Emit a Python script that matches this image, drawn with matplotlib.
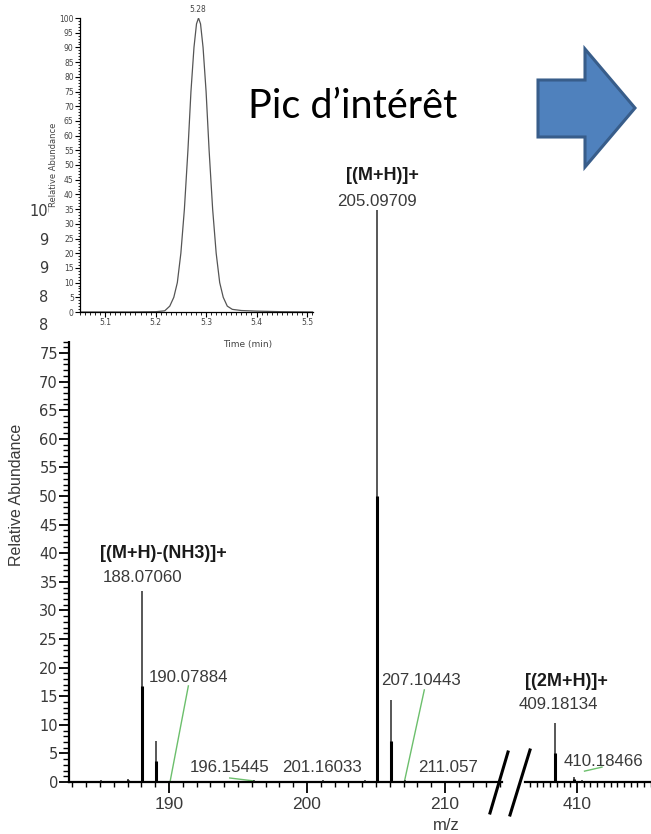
import numpy as np
import matplotlib
matplotlib.use('Agg')
import matplotlib.pyplot as plt
from matplotlib.patches import Rectangle, Polygon
from matplotlib.lines import Line2D
from matplotlib.ticker import MultipleLocator

W, H = 651, 834

# spectrum, left part of the broken m/z axis
left_mz = [185.07, 187.00, 188.07, 189.07, 196.15, 201.16, 204.20, 205.10, 206.10, 207.10, 211.06]
left_int = [0.4, 0.6, 33.4, 7.2, 0.4, 0.3, 0.3, 100.0, 14.3, 0.3, 0.2]
# right part
right_mz = [409.18, 409.87, 410.18]
right_int = [10.3, 0.9, 0.3]

# chromatogram of the peak of interest
rt = [5.05, 5.10, 5.15, 5.20, 5.218, 5.228, 5.236, 5.243, 5.250, 5.257, 5.264, 5.270, 5.276,
      5.281, 5.285, 5.289, 5.294, 5.300, 5.306, 5.313, 5.320, 5.327, 5.334, 5.342, 5.352,
      5.370, 5.40, 5.45, 5.512]
rt_int = [0, 0, 0, 0.1, 0.4, 2, 5, 10, 20, 35, 55, 75, 90,
          98, 100, 98, 90, 75, 55, 35, 20, 10, 5, 2, 0.9,
          0.5, 0.3, 0.1, 0]

# label text, label centre (m/z, abundance)
label_txt = ['188.07060', '190.07884', '196.15445', '201.16033', '205.09709', '207.10443', '211.057']
label_x = [188.07, 191.4, 194.38, 201.1, 205.10, 208.29, 210.2]
label_y = [35.7, 18.3, 2.45, 2.45, 101.5, 17.8, 2.45]

FONT = 'Liberation Sans'
TXT = '#3a3a3a'
GREEN = '#6cbf6c'


def fr(x0, y0, x1, y1):
    # pixel box (top-left origin) -> figure fraction rect
    return [x0 / W, 1 - y1 / H, (x1 - x0) / W, (y1 - y0) / H]


def fp(x, y):
    return x / W, 1 - y / H


def draw_peaks(ax, mz, inten):
    inten = np.array(inten)
    ax.vlines(mz, 0, inten, color='#2a2a2a', lw=1.1, zorder=3)
    ax.vlines(mz, 0, inten / 2, color='black', lw=2.2, zorder=3)


fig = plt.figure(figsize=(W / 100, H / 100), dpi=100)
fig.patch.set_facecolor('white')

px_per_unit = 5.72
ytop = 101
axL = fig.add_axes(fr(69, 782 - ytop * px_per_unit, 502, 782))
axR = fig.add_axes(fr(525, 782 - ytop * px_per_unit, 651, 782))

for ax in (axL, axR):
    ax.set_ylim(0, ytop)
    ax.spines['top'].set_visible(False)
    ax.spines['right'].set_visible(False)
    ax.spines['bottom'].set_linewidth(1.6)
    ax.spines['left'].set_linewidth(1.6)
    ax.patch.set_alpha(0)

axL.set_xlim(182.75, 214.13)
axR.set_xlim(408.06, 412.76)
axR.spines['left'].set_visible(False)
axR.set_yticks([])

draw_peaks(axL, left_mz, left_int)
draw_peaks(axR, right_mz, right_int)

axL.yaxis.set_minor_locator(MultipleLocator(1))
axL.set_yticks(np.arange(0, 101, 5))
axL.tick_params(axis='y', which='major', length=7, width=1.3, labelsize=10.5, labelcolor=TXT, pad=1)
axL.tick_params(axis='y', which='minor', length=4, width=1.0)

axL.xaxis.set_major_locator(MultipleLocator(10))
axL.xaxis.set_minor_locator(MultipleLocator(1))
axR.xaxis.set_major_locator(MultipleLocator(10))
axR.xaxis.set_minor_locator(MultipleLocator(0.25))
for ax in (axL, axR):
    ax.tick_params(axis='x', which='major', length=8, width=1.3, labelsize=12.5, labelcolor=TXT, pad=3)
    ax.tick_params(axis='x', which='minor', length=3.5, width=1.0)
    for lab in ax.get_xticklabels():
        lab.set_fontfamily(FONT)

fig.text(*fp(17, 495), 'Relative Abundance', rotation=90, ha='center', va='center',
         fontsize=11.5, family=FONT, color=TXT)
fig.text(*fp(446, 826), 'm/z', ha='center', va='center', fontsize=12, family=FONT, color=TXT)

# peak labels
for x, y, s in zip(label_x, label_y, label_txt):
    axL.text(x, y, s, ha='center', va='center', fontsize=12.2,
             family=FONT, color=TXT, clip_on=False, zorder=4)

axL.text(185.0, 40.0, '[(M+H)-(NH3)]+', ha='left', va='center', fontsize=13,
         family=FONT, weight='bold', color='#1a1a1a', clip_on=False)
axL.text(205.5, 106.0, '[(M+H)]+', ha='center', va='center', fontsize=13,
         family=FONT, weight='bold', color='#1a1a1a', clip_on=False)
axR.text(409.29, 13.5, '409.18134', ha='center', va='center', fontsize=12.2,
         family=FONT, color=TXT, clip_on=False)
axR.text(409.59, 17.5, '[(2M+H)]+', ha='center', va='center', fontsize=13,
         family=FONT, weight='bold', color='#1a1a1a', clip_on=False)
axR.text(411.0, 3.5, '410.18466', ha='center', va='center', fontsize=12.2,
         family=FONT, color=TXT, clip_on=False)

# green leader lines
axL.plot([190.07, 191.4], [0, 16.8], color=GREEN, lw=1.0, zorder=2, clip_on=False)
axL.plot([207.05, 208.5], [0, 16.1], color=GREEN, lw=1.0, zorder=2, clip_on=False)
axL.plot([194.4, 196.1], [0.7, 0.2], color=GREEN, lw=1.0, zorder=2, clip_on=False)
axR.plot([410.28, 410.93], [1.9, 2.6], color=GREEN, lw=1.0, zorder=2, clip_on=False)

# axis break marks
for (x0, y0, x1, y1) in [(490, 813, 508, 752), (510, 815, 530, 750)]:
    a, b = fp(x0, y0)
    c, d = fp(x1, y1)
    fig.add_artist(Line2D([a, c], [b, d], color='black', lw=2.2, zorder=5))

# white panel hiding the top of the spectrum axis behind the chromatogram
x0, y0 = fp(48.5, 341)
fig.add_artist(Rectangle((x0, y0), (325 - 48.5) / W, 341 / H, transform=fig.transFigure,
                         facecolor='white', edgecolor='none', zorder=1))

# inset chromatogram
axI = fig.add_axes(fr(80, 18, 313, 312), zorder=2)
axI.plot(rt, rt_int, color='#555555', lw=0.9)
axI.set_xlim(5.05, 5.512)
axI.set_ylim(0, 100)
axI.spines['top'].set_visible(False)
axI.spines['right'].set_visible(False)
axI.spines['left'].set_linewidth(0.9)
axI.spines['bottom'].set_linewidth(0.9)
axI.yaxis.set_major_locator(MultipleLocator(5))
axI.yaxis.set_minor_locator(MultipleLocator(1))
axI.xaxis.set_major_locator(MultipleLocator(0.1))
axI.xaxis.set_minor_locator(MultipleLocator(0.01))
axI.tick_params(which='major', length=3.5, width=0.8, labelsize=5.5, labelcolor='#444', pad=1)
axI.tick_params(which='minor', length=1.8, width=0.6)
axI.set_xticks([5.1, 5.2, 5.3, 5.4, 5.5])
axI.set_xticklabels(['5.1', '5.2', '5.3', '5.4', '5.5'])
axI.set_ylabel('Relative Abundance', fontsize=6, color='#444', labelpad=1)
axI.set_xlabel('Time (min)', fontsize=6.5, color='#444')
axI.xaxis.set_label_coords(0.719, -0.095)
axI.text(5.284, 101.5, '5.28', ha='center', va='bottom', fontsize=5.5, color='#444')

# title text and arrow
fig.text(*fp(353, 106), 'Pic d\u2019intérêt', ha='center', va='center', fontsize=28.5,
         family='Lato', color='black', zorder=6)
arrow_px = [(538, 80), (585, 80), (585, 49), (635, 108), (585, 167), (585, 137), (538, 137)]
fig.add_artist(Polygon([fp(x, y) for x, y in arrow_px], closed=True, transform=fig.transFigure,
                       facecolor='#4F81BD', edgecolor='#385D8A', lw=2.2, zorder=6))

fig.savefig('out.png', dpi=100, facecolor='white')
